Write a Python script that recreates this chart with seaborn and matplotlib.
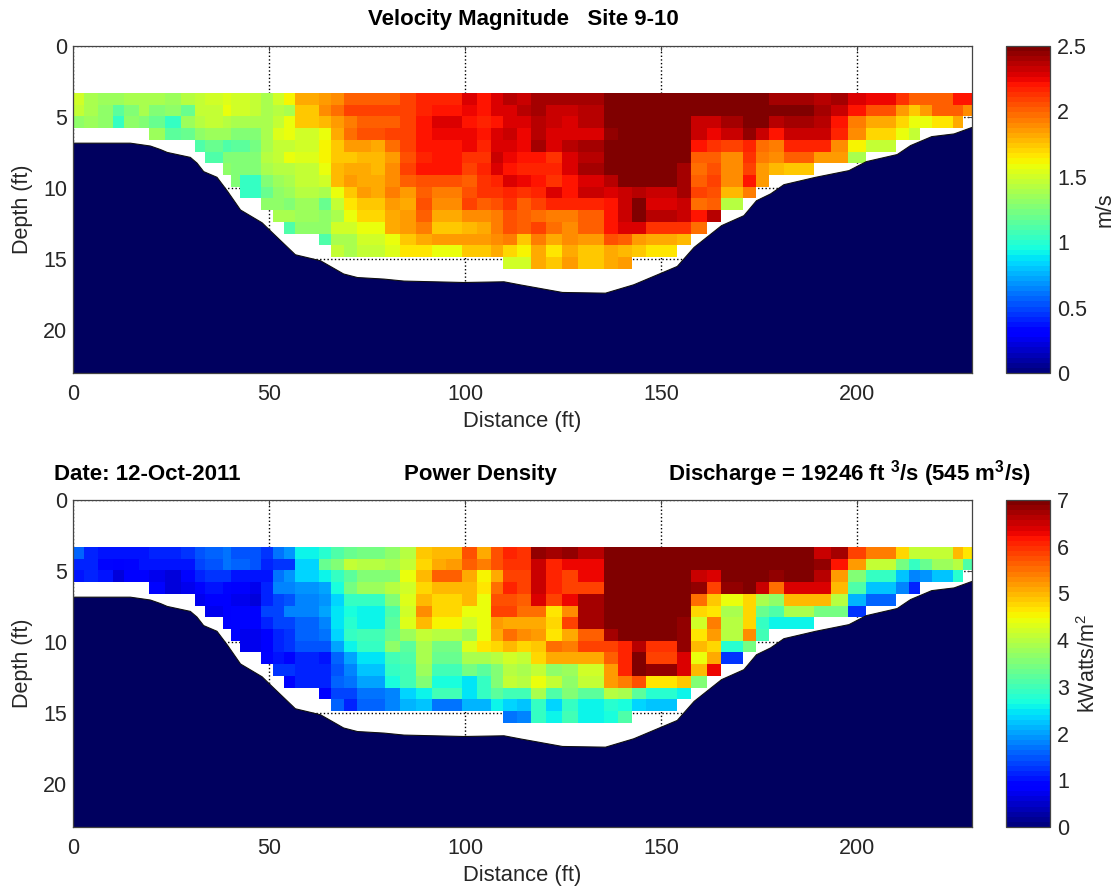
import numpy as np
import matplotlib
matplotlib.use("Agg")
import matplotlib.pyplot as plt
from matplotlib.transforms import Affine2D
import seaborn as sns

sns.set_style("white")
plt.rcParams['font.family'] = ['Liberation Sans', 'DejaVu Sans']
plt.rcParams['mathtext.fontset'] = 'custom'
plt.rcParams['mathtext.rm'] = 'Liberation Sans'
plt.rcParams['mathtext.bf'] = 'Liberation Sans:bold'

n = np.nan

# Column edges of the measured cells (ft), rows are 0.825 ft starting 3.3 ft down
col_edges = [0, 2.8, 6.3, 10.3, 13.1, 16.8, 19.5, 23.5, 27.5, 31, 33.8, 38.3, 40.2, 42.4, 45.2, 48.1, 51.1,
             53.8, 56.6, 60, 62.8, 65.7, 68.9, 72.6, 76.1, 79.6, 83.4, 87.5, 91.5, 95.3, 99.3, 103,
             106.4, 109.8, 113.3, 116.7, 120.7, 124.8, 128.7, 132.1, 135.5, 139, 142.5, 146.3, 150.2,
             154, 157.8, 161.8, 165.3, 171, 174.2, 177.6, 181.2, 185.5, 189, 193.3, 197.8, 202.2,
             206.3, 210.1, 213.3, 216, 218.9, 224.4, 227, 229.3]

# Channel bed
bed_x = [0, 14.5, 19.6, 22.2, 23.9, 29.8, 31.5, 33.2, 36.6, 39.2, 42.6, 48.1, 51.1, 56.6, 63, 68.9,
         72.4, 79.2, 84.3, 99.6, 109.8, 114, 124.7, 135.7, 142.9, 154, 158.3, 165.3, 171, 174.2,
         177.8, 181.2, 189.3, 197.8, 202.2, 210.1, 213.5, 218.9, 224.6, 229.3]
bed_depth = [6.8, 6.8, 7.0, 7.25, 7.45, 7.8, 8.2, 8.8, 9.2, 10.15, 11.5, 12.4, 13.2, 14.65, 15.07, 16.0,
             16.25, 16.36, 16.5, 16.6, 16.55, 16.77, 17.3, 17.35, 16.76, 15.47, 14.13, 12.6, 11.9, 10.85,
             10.37, 9.72, 9.2, 8.73, 8.1, 7.6, 6.97, 6.34, 6.15, 5.68]

# Velocity magnitude (m/s), first column of each row is in row_start
row_start = [0, 0, 0, 6, 9, 10, 11, 12, 13, 15, 16, 17, 20, 21, 33]
vel_r0 = [1.5, 1.4, 1.35, 1.35, 1.38, 1.4, 1.4, 1.35, 1.42, 1.45, 1.5, 1.55, 1.5, 1.5, 1.45, 1.38, 1.52, 1.62, 1.82, 1.82, 1.85,
          1.9, 2.0, 2.0, 2.0, 2.03, 2.1, 2.15, 2.18, 2.18, 2.27, 2.2, 2.27, 2.38, 2.33, 2.42, 2.42, 2.42, 2.42, 2.42,
          2.5, 2.5, 2.5, 2.5, 2.5, 2.5, 2.5, 2.5, 2.5, 2.5, 2.5, 2.42, 2.42, 2.42, 2.37, 2.42, 2.3, 2.25, 2.25, 2.12,
          2.02, 2.02, 2.03, 2.2, 2.2]
vel_r1 = [1.45, 1.4, 1.3, 1.15, 1.28, 1.38, 1.28, 1.32, 1.2, 1.45, 1.47, 1.6, 1.5, 1.5, 1.45, 1.38, 1.42, 1.38, 1.72, 1.72, 1.9,
          1.98, 2.08, 2.08, 2.08, 2.08, 2.1, 2.15, 2.2, 2.2, 2.25, 2.22, 2.27, 2.28, 2.35, 2.4, 2.33, 2.33, 2.37, 2.37,
          2.5, 2.5, 2.5, 2.5, 2.5, 2.5, 2.5, 2.5, 2.5, 2.5, 2.5, 2.47, 2.47, 2.47, 2.42, 2.32, 2.2, 2.07, 2.07, 1.85,
          1.75, 1.85, 2.0, 2.02, 1.9]
vel_r2 = [1.3, 1.35, 1.3, 1.05, 1.3, 1.25, 1.18, 1.05, 1.35, 1.42, 1.47, 1.42, 1.4, 1.4, 1.4, 1.38, 1.48, 1.6, 1.72, 1.72, 1.78,
          1.85, 1.93, 2.0, 2.0, 2.0, 2.1, 2.2, 2.3, 2.3, 2.2, 2.15, 2.2, 2.28, 2.27, 2.35, 2.32, 2.28, 2.37, 2.37,
          2.5, 2.5, 2.5, 2.5, 2.5, 2.5, 2.32, 2.32, 2.42, 2.5, 2.47, 2.38, 2.42, 2.42, 2.37, 2.2, 1.95, 1.82, 1.82, 1.68,
          1.58, 1.6, 1.66, 1.8]
vel_r3 = [1.35, 1.15, 1.2, 1.3, 1.35, 1.35, 1.28, 1.28, 1.25, 1.38, 1.55, 1.6, 1.52, 1.52, 1.6, 1.8, 1.97, 2.05, 2.05, 2.1, 2.1,
          2.2, 2.25, 2.25, 2.25, 2.2, 2.3, 2.33, 2.25, 2.35, 2.3, 2.27, 2.27, 2.27, 2.45, 2.5, 2.5, 2.5, 2.5, 2.5,
          2.33, 2.25, 2.33, 2.45, 2.33, 2.2, 2.33, 2.33, 2.32, 2.15, 1.88, 1.68, 1.68, 1.6, 1.45]
vel_r4 = [1.1, 1.2, 1.1, 1.15, 1.15, 1.22, 1.38, 1.45, 1.48, 1.52, 1.52, 1.63, 1.72, 1.85, 1.85, 1.82, 1.98, 2.08, 2.22, 2.22, 2.2,
          2.25, 2.15, 2.27, 2.27, 2.25, 2.4, 2.3, 2.37, 2.4, 2.42, 2.5, 2.5, 2.5, 2.5, 2.5, 2.5, 2.2, 2.12, 2.08, 2.15,
          1.98, 1.95, 2.15, 2.15, 2.15, 1.9, 1.62, 1.45, 1.45]
vel_r5 = [1.1, 1.25, 1.28, 1.28, 1.28, 1.42, 1.48, 1.58, 1.56, 1.56, 1.63, 1.75, 1.75, 1.78, 1.78, 1.87, 2.07, 2.18, 2.22, 2.22, 2.13,
          2.12, 2.33, 2.25, 2.22, 2.22, 2.12, 2.27, 2.37, 2.37, 2.5, 2.5, 2.5, 2.5, 2.5, 2.5, 2.03, 2.03, 1.9, 2.13, 1.95,
          1.9, 2.02, 2.02, 1.85, 1.85, 1.4]
vel_r6 = [1.3, 1.28, 1.28, 1.28, 1.38, 1.42, 1.42, 1.48, 1.48, 1.58, 1.78, 1.8, 1.8, 1.78, 1.9, 2.08, 2.2, 2.2, 2.2, 2.1, 2.15,
          2.27, 2.22, 2.18, 2.18, 2.15, 2.27, 2.42, 2.42, 2.47, 2.5, 2.5, 2.5, 2.5, 2.42, 1.98, 2.07, 1.9, 2.1, 1.85, 1.78,
          1.75, 1.75]
vel_r7 = [1.25, 1.05, 1.05, 1.25, 1.35, 1.38, 1.48, 1.48, 1.52, 1.78, 1.85, 1.83, 1.83, 1.9, 2.0, 2.07, 2.07, 2.07, 2.03, 2.13, 2.18,
          2.27, 2.25, 2.2, 2.12, 2.2, 2.27, 2.27, 2.37, 2.47, 2.5, 2.47, 2.47, 2.4, 2.02, 2.08, 1.9, 2.2, 1.85]
vel_r8 = [1.05, 1.05, 1.2, 1.3, 1.35, 1.42, 1.42, 1.38, 1.6, 1.75, 1.85, 1.83, 1.93, 1.87, 2.02, 1.92, 1.92, 2.07, 2.12, 2.13,
          2.17, 2.12, 2.17, 2.27, 2.22, 2.33, 2.33, 2.28, 2.33, 2.38, 2.32, 2.32, 2.42, 2.1, 2.05, 1.78, 1.95]
vel_r9 = [1.3, 1.3, 1.25, 1.35, 1.35, 1.2, 1.45, 1.65, 1.72, 1.72, 1.85, 1.83, 2.05, 1.88, 1.88, 2.08, 2.0, 2.05, 2.12,
          2.02, 2.1, 2.18, 2.18, 2.18, 2.18, 2.2, 2.33, 2.47, 2.27, 2.27, 2.33, 1.98, 2.03, 1.42]
vel_r10 = [1.4, 1.38, 1.35, 1.35, 1.3, 1.4, 1.58, 1.7, 1.7, 1.82, 1.85, 2.0, 1.82, 1.82, 1.88, 1.88, 1.95, 2.07,
           2.0, 1.97, 1.95, 1.95, 2.03, 2.03, 2.2, 2.33, 2.5, 2.38, 2.38, 2.33, 2.22, 2.38]
vel_r11 = [1.1, 1.3, 1.3, 1.3, 1.52, 1.5, 1.6, 1.6, 1.8, 1.85, 1.95, 1.75, 1.75, 1.78, 1.8, 1.92, 2.05,
           2.0, 2.1, 1.98, 1.9, 2.0, 2.0, 2.2, 2.27, 2.27, 2.12, 2.12, 2.12, 1.97]
vel_r12 = [1.1, 1.4, 1.4, 1.5, 1.5, 1.58, 1.72, 1.82, 1.85, 1.85, 1.85, 1.85, 1.88, 1.92,
           1.72, 1.95, 1.8, 1.88, 1.85, 1.85, 2.05, 2.0, 1.85, 1.8, 1.8, 1.78]
vel_r13 = [1.48, 1.38, 1.47, 1.47, 1.56, 1.65, 1.65, 1.58, 1.58, 1.72, 1.72, 1.8, 1.68,
           1.62, 1.82, 1.67, 1.82, 1.72, 1.72, 1.8, 1.78, 1.75, 1.65, 1.65]
vel_r14 = [1.5, 1.5, 1.8, 1.75, 1.85, 1.72, 1.72, 1.8, 1.87]

# Power density (kW/m2), same cells as the velocity rows
pow_r0 = [1.6, 1.2, 1.05, 1.0, 1.0, 1.05, 1.1, 1.15, 1.3, 1.5, 1.6, 1.65, 1.5, 1.5, 1.45, 1.25, 1.65, 1.9, 2.6, 2.6, 2.8,
          3.1, 3.3, 3.4, 3.4, 3.7, 4.0, 4.9, 5.0, 5.0, 5.7, 5.1, 5.7, 6.1, 6.0, 6.8, 6.75, 6.8, 6.6, 6.6,
          7, 7, 7, 7, 7, 7, 7, 7, 7, 7, 7, 7, 7, 7, 6.55, 6.75, 5.8, 5.45, 5.45, 4.8, 4.1, 4.1, 4.1, 5.0, 4.7]
pow_r1 = [1.2, 1.1, 0.95, 0.8, 0.95, 1.05, 1.0, 1.0, 1.0, 1.4, 1.5, 1.7, 1.55, 1.55, 1.5, 1.2, 1.3, 1.3, 2.35, 2.35, 3.3,
          3.5, 4.1, 4.0, 3.95, 3.9, 4.1, 4.8, 5.1, 5.15, 5.6, 5.4, 5.75, 6.0, 6.0, 6.55, 6.1, 6.25, 6.3, 6.3,
          7, 7, 7, 7, 7, 7, 7, 7, 7, 7, 7, 7, 7, 7, 6.85, 6.15, 5.2, 4.15, 4.1, 3.4, 2.85, 3.3, 3.8, 4.0, 3.1]
pow_r2 = [1.0, 1.1, 1.05, 0.65, 0.85, 0.85, 0.7, 0.55, 0.95, 1.2, 1.3, 1.25, 1.05, 1.05, 1.0, 1.05, 1.65, 1.95, 2.35, 2.35, 2.6,
          2.9, 3.2, 3.55, 3.55, 3.6, 4.4, 5.0, 5.65, 5.65, 5.1, 4.5, 5.1, 5.9, 5.9, 6.5, 6.1, 5.85, 6.3, 6.3,
          7, 7, 7, 7, 7, 7, 6.55, 6.4, 7, 7, 7, 6.8, 7, 7, 6.6, 5.2, 3.6, 2.9, 2.9, 2.25, 1.8, 1.9, 2.2, 2.8]
pow_r3 = [0.9, 0.6, 0.75, 0.95, 1.0, 0.95, 0.85, 0.85, 0.75, 1.15, 1.75, 1.85, 1.9, 1.9, 2.0, 2.65, 3.4, 3.75, 3.75, 4.0, 4.2,
          4.8, 5.0, 5.0, 5.0, 4.7, 5.5, 6.05, 5.9, 6.5, 6.1, 5.8, 5.8, 5.8, 7, 7, 7, 7, 7, 7,
          6.8, 5.8, 6.85, 7, 6.5, 5.5, 6.4, 6.4, 6.35, 5.0, 3.1, 2.2, 2.2, 1.85, 1.2]
pow_r4 = [0.7, 0.8, 0.8, 0.7, 0.7, 0.65, 1.1, 1.4, 1.5, 1.75, 1.75, 1.9, 2.4, 2.95, 2.95, 2.9, 3.6, 4.3, 5.0, 4.8, 4.8,
          5.0, 4.4, 5.7, 5.7, 5.65, 6.4, 5.8, 6.3, 6.75, 6.75, 7, 7, 7, 7, 7, 7, 5.55, 4.9, 4.4, 4.8,
          3.9, 3.7, 5.0, 5.0, 5.0, 3.95, 2.1, 1.6, 1.6]
pow_r5 = [0.7, 0.8, 0.9, 0.9, 0.85, 1.35, 1.4, 1.85, 1.85, 1.85, 2.0, 2.5, 2.7, 2.6, 2.6, 3.15, 4.2, 5.3, 4.75, 4.75, 4.4,
          4.4, 5.85, 5.8, 5.55, 5.5, 4.7, 5.3, 6.75, 6.75, 7, 7, 7, 7, 7, 7, 4.75, 4.7, 3.9, 4.75, 3.35,
          3.15, 3.85, 3.85, 3.4, 3.4, 1.3]
pow_r6 = [0.85, 0.9, 0.9, 0.8, 1.1, 1.4, 1.4, 1.55, 1.55, 1.8, 2.5, 2.75, 2.55, 2.55, 3.2, 4.35, 5.0, 4.5, 4.5, 4.2, 4.4,
          5.2, 5.1, 5.1, 5.1, 4.8, 5.85, 6.75, 6.75, 6.9, 7, 7, 7, 7, 6.85, 4.2, 5.4, 4.0, 4.8, 2.9, 2.6,
          2.6, 2.6]
pow_r7 = [0.95, 0.75, 0.7, 0.85, 1.2, 1.3, 1.6, 1.6, 1.7, 2.3, 2.95, 3.0, 3.0, 3.3, 3.8, 4.1, 4.0, 4.0, 3.8, 4.4, 5.1,
          5.5, 5.3, 5.2, 4.7, 5.1, 5.6, 5.6, 6.7, 7, 7, 7, 7, 6.85, 4.6, 5.2, 4.0, 5.3, 3.05]
pow_r8 = [0.7, 0.7, 0.8, 1.15, 1.25, 1.5, 1.5, 1.45, 2.0, 2.6, 2.85, 2.85, 3.65, 3.2, 3.9, 3.4, 3.4, 4.3, 4.7, 4.8,
          5.0, 4.8, 4.9, 5.5, 5.4, 5.85, 5.85, 5.8, 6.1, 6.6, 5.95, 5.95, 6.8, 5.0, 4.8, 2.75, 3.45]
pow_r9 = [0.9, 1.0, 0.95, 1.2, 1.2, 1.05, 1.55, 2.05, 2.45, 2.45, 3.0, 3.15, 3.85, 3.35, 3.35, 3.9, 3.9, 3.95, 4.2,
          4.1, 4.8, 5.1, 5.1, 5.1, 5.1, 5.6, 6.1, 7, 5.8, 5.8, 6.4, 4.4, 5.1, 1.3]
pow_r10 = [1.3, 1.3, 1.2, 1.2, 1.15, 1.5, 1.85, 2.2, 2.2, 2.95, 3.0, 3.8, 3.05, 3.05, 3.4, 3.2, 3.6, 3.95,
           3.85, 4.05, 3.7, 3.8, 4.25, 4.25, 5.2, 6.1, 7, 6.8, 6.8, 6.4, 5.0, 6.3]
pow_r11 = [0.95, 1.15, 1.15, 1.15, 1.55, 1.7, 2.0, 2.0, 2.7, 3.0, 3.5, 2.7, 2.7, 2.5, 2.85, 3.55, 4.1,
           4.0, 4.4, 4.1, 3.7, 4.1, 4.15, 5.2, 5.4, 5.7, 4.7, 4.7, 4.9, 3.5]
pow_r12 = [0.8, 1.35, 1.35, 1.65, 1.65, 1.75, 2.4, 2.6, 3.05, 3.05, 2.5, 2.9, 3.25, 3.0,
           3.0, 3.85, 3.1, 3.5, 3.2, 3.2, 4.0, 3.85, 3.2, 2.8, 2.8, 2.6]
pow_r13 = [1.6, 1.2, 1.6, 1.6, 1.85, 2.1, 2.25, 1.7, 1.7, 2.15, 2.15, 2.55, 2.3,
           2.2, 2.95, 2.4, 2.9, 2.6, 2.6, 2.8, 2.7, 2.35, 2.25, 2.25]
pow_r14 = [1.7, 1.75, 2.85, 2.6, 3.0, 2.6, 2.6, 2.7, 3.15]

vel_rows = [vel_r0, vel_r1, vel_r2, vel_r3, vel_r4, vel_r5, vel_r6, vel_r7, vel_r8, vel_r9, vel_r10,
            vel_r11, vel_r12, vel_r13, vel_r14]
pow_rows = [pow_r0, pow_r1, pow_r2, pow_r3, pow_r4, pow_r5, pow_r6, pow_r7, pow_r8, pow_r9, pow_r10,
            pow_r11, pow_r12, pow_r13, pow_r14]

x_ticks = [0, 50, 100, 150, 200]
y_ticks = [0, 5, 10, 15, 20]
vel_ticks = [0, 0.5, 1, 1.5, 2, 2.5]
pow_ticks = [0, 1, 2, 3, 4, 5, 6, 7]

W, H = 1117, 888
DX, DY = 0.25, 0.825
SKIP_ROWS = 4
edge_color = '#444444'
bed_color = '#00005f'
cmap = plt.get_cmap('jet', 64)


def build_grid(rows):
    # stretch the uneven columns onto a regular grid so sns.heatmap can draw them
    ncol = len(col_edges) - 1
    widths = np.diff(np.round(np.array(col_edges) / DX)).astype(int)
    grid = np.full((SKIP_ROWS + len(rows), widths.sum()), np.nan)
    for i, row in enumerate(rows):
        full = np.full(ncol, np.nan)
        full[row_start[i]:row_start[i] + len(row)] = row
        grid[SKIP_ROWS + i] = np.repeat(full, widths)
    return grid


def panel(top, rows, vmax, cticks, clabel):
    bottom = top + 327
    ax = fig.add_axes([73 / W, 1 - bottom / H, 899 / W, 327 / H])
    cax = fig.add_axes([1005.5 / W, 1 - bottom / H, 44.5 / W, 327 / H])
    sns.heatmap(build_grid(rows), ax=ax, cbar_ax=cax, cmap=cmap, vmin=0, vmax=vmax,
                xticklabels=False, yticklabels=False,
                cbar_kws={'ticks': cticks, 'format': '%g'})
    # put the mesh into real units
    ax.collections[0].set_transform(Affine2D().scale(DX, DY) + ax.transData)
    ax.fill_between(bed_x, bed_depth, 23, color=bed_color, lw=0.8, edgecolor='#111111', zorder=2)

    ax.set_xlim(0, 229.3)
    ax.set_ylim(23, 0)
    ax.set_xticks(x_ticks)
    ax.set_xticklabels([str(t) for t in x_ticks])
    ax.set_yticks(y_ticks)
    ax.set_yticklabels([str(t) for t in y_ticks], rotation=0)
    ax.grid(True, linestyle=':', color='black', lw=1.0)
    ax.set_axisbelow(True)
    ax.tick_params(direction='in', length=3.5, width=0.7, color=edge_color, labelsize=15.5,
                   top=True, right=True, bottom=True, left=True)
    ax.tick_params(axis='x', pad=8)
    ax.tick_params(axis='y', pad=4)
    for s in ax.spines.values():
        s.set_visible(True)
        s.set_color(edge_color)
        s.set_linewidth(0.9)
    ax.set_xlabel('Distance (ft)', fontsize=15.8, labelpad=4)
    ax.set_ylabel('Depth (ft)', fontsize=15.5, labelpad=7.5)

    cax.tick_params(direction='in', length=3, width=0.7, color=edge_color, labelsize=15.5,
                    left=True, right=True, pad=5)
    cbar = ax.collections[0].colorbar
    cbar.outline.set_visible(True)
    cbar.outline.set_edgecolor(edge_color)
    cbar.outline.set_linewidth(0.9)
    cax.set_ylabel(clabel, fontsize=15.5, labelpad=5.5)
    return ax


fig = plt.figure(figsize=(W / 100, H / 100), dpi=100)

panel(46, vel_rows, 2.5, vel_ticks, 'm/s')
panel(500, pow_rows, 7, pow_ticks, 'kWatts/m$^2$')

fig.text(523 / W, 1 - 20 / H, 'Velocity Magnitude   Site 9-10', fontsize=16, fontweight='bold',
         color='black', ha='center', va='center')
fig.text(54 / W, 1 - 474 / H, 'Date: 12-Oct-2011', fontsize=16, fontweight='bold', color='black',
         ha='left', va='center')
fig.text(480 / W, 1 - 474 / H, 'Power Density', fontsize=16, fontweight='bold', color='black',
         ha='center', va='center')
fig.text(668 / W, 1 - 474 / H, r'Discharge = 19246 ft $^{\mathbf{3}}$/s (545 m$^{\mathbf{3}}$/s)', fontsize=16,
         fontweight='bold', color='black', ha='left', va='center')

fig.savefig('out.png', dpi=100)
